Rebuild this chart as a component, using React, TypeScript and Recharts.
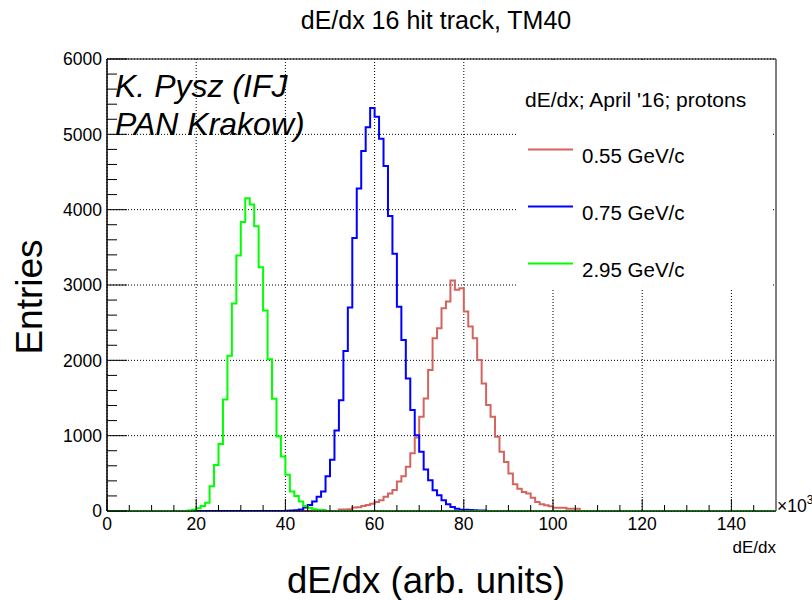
import React from 'react';
import { ComposedChart, Line, XAxis, YAxis, CartesianGrid, Legend, ReferenceArea } from 'recharts';

const FONT = '"Liberation Sans", Arial, Helvetica, sans-serif';

// ---- data (bin width = 1 unit of 10^3, bins start at integer edges) ----
const xMin = 0;
const xMax = 150;

const redStart = 52;
const redCounts = [
  20, 20, 22, 48, 50, 65, 80, 95, 120, 142, 188, 232, 278, 390, 461, 587, 765, 975, 1250, 1494,
  1871, 2293, 2426, 2692, 2780, 3060, 2936, 2958, 2647, 2448, 2293, 2004, 1694, 1406, 1250, 984,
  785, 652, 497, 355, 297, 253, 231, 177, 120, 89, 75, 62, 44, 44, 44, 31, 31, 31,
];

const blueStart = 40;
const blueCounts = [
  3, 5, 10, 20, 45, 80, 125, 190, 260, 460, 680, 1070, 1470, 2125, 2700, 3625, 4280, 4780, 5095,
  5350, 5235, 4940, 4580, 3915, 3415, 2712, 2270, 1760, 1340, 1007, 785, 550, 408, 275, 208, 142,
  89, 53, 31, 15, 15, 12, 10, 8, 5,
];

const greenStart = 18;
const greenCounts = [
  8, 18, 35, 65, 110, 330, 610, 890, 1480, 2060, 2755, 3390, 3835, 4150, 4070, 3780, 3235, 2660,
  2015, 1490, 990, 725, 480, 260, 200, 125, 67, 44, 22, 13, 13,
];

const seriesNames = ['0.55 GeV/c', '0.75 GeV/c', '2.95 GeV/c'];
const seriesColors = ['#d4645e', '#0000ff', '#00ff00'];

const xTicks = [0, 5, 10, 15, 20, 25, 30, 35, 40, 45, 50, 55, 60, 65, 70, 75, 80, 85, 90, 95, 100, 105, 110, 115, 120, 125, 130, 135, 140, 145];
const xMajor = [0, 20, 40, 60, 80, 100, 120, 140];
const yTicks = [0, 200, 400, 600, 800, 1000, 1200, 1400, 1600, 1800, 2000, 2200, 2400, 2600, 2800, 3000, 3200, 3400, 3600, 3800, 4000, 4200, 4400, 4600, 4800, 5000, 5200, 5400, 5600, 5800, 6000];
const yMajor = [0, 1000, 2000, 3000, 4000, 5000, 6000];

const titleText = 'dE/dx 16 hit track, TM40';
const legendTitle = "dE/dx; April '16; protons";
const noteLines = ['K. Pysz (IFJ', 'PAN Krakow)'];
const xTitle = 'dE/dx (arb. units)';
const yTitle = 'Entries';
const xUnitLabel = 'dE/dx';

// build table
const pick = (arr: number[], start: number, k: number) => {
  const i = k - start;
  return i >= 0 && i < arr.length ? arr[i] : 0;
};
const data: { x: number; red: number; blue: number; green: number }[] = [];
for (let k = xMin; k <= xMax; k++) {
  data.push({
    x: k,
    red: pick(redCounts, redStart, k),
    blue: pick(blueCounts, blueStart, k),
    green: pick(greenCounts, greenStart, k),
  });
}

const XTick = (props: any) => {
  const { x, y, payload } = props;
  const v = payload.value;
  const major = xMajor.includes(v);
  return (
    <g>
      <line x1={x} x2={x} y1={y} y2={y - (major ? 12 : 6)} stroke="#000" strokeWidth={1} />
      {major && (
        <text x={x} y={y + 19} textAnchor="middle" fontSize={17.5} fontFamily={FONT} fill="#000">
          {v}
        </text>
      )}
    </g>
  );
};

const YTick = (props: any) => {
  const { x, y, payload } = props;
  const v = payload.value;
  const major = yMajor.includes(v);
  return (
    <g>
      <line x1={x} x2={x + (major ? 20 : 10)} y1={y} y2={y} stroke="#000" strokeWidth={1} />
      {major && (
        <text x={x - 5} y={y} dy="0.36em" textAnchor="end" fontSize={17.5} fontFamily={FONT} fill="#000">
          {v}
        </text>
      )}
    </g>
  );
};

const renderLegend = (props: any) => {
  const payload = props.payload || [];
  return (
    <svg width={255} height={228} style={{ display: 'block' }}>
      <rect x={0} y={0} width={255} height={228} fill="#fff" />
      <text x={7} y={44.5} fontSize={21} fontFamily={FONT} fill="#000">
        {legendTitle}
      </text>
      {payload.map((p: any, i: number) => (
        <g key={i}>
          <line x1={10} x2={55} y1={87.5 + i * 57} y2={87.5 + i * 57} stroke={p.color} strokeWidth={2} />
          <text x={64} y={100.5 + i * 57} fontSize={20.5} fontFamily={FONT} fill="#000">
            {p.value}
          </text>
        </g>
      ))}
    </svg>
  );
};

export default function App() {
  return (
    <div style={{ position: 'absolute', left: 0, top: 0, width: 812, height: 600, background: '#fff' }}>
      <ComposedChart
        width={812}
        height={600}
        data={data}
        margin={{ top: 59, right: 36, bottom: 0, left: 0 }}
      >
        <CartesianGrid
          stroke="#000"
          strokeDasharray="1 2"
          verticalValues={xMajor}
          horizontalValues={yMajor}
        />
        <XAxis
          dataKey="x"
          type="number"
          domain={[xMin, xMax]}
          ticks={xTicks}
          interval={0}
          tickSize={0}
          tickMargin={0}
          tickLine={false}
          tick={<XTick />}
          height={89}
          axisLine={{ stroke: '#000' }}
          allowDataOverflow
        />
        <YAxis
          type="number"
          domain={[0, 6000]}
          ticks={yTicks}
          interval={0}
          tickSize={0}
          tickMargin={0}
          tickLine={false}
          tick={<YTick />}
          width={107}
          axisLine={{ stroke: '#000' }}
          allowDataOverflow
        />
        <ReferenceArea x1={xMin} x2={xMax} y1={0} y2={6000} fill="none" stroke="#000" strokeWidth={1} />
        <Legend
          layout="vertical"
          align="center"
          verticalAlign="middle"
          content={renderLegend}
          wrapperStyle={{ left: 518, top: 62, width: 255, height: 228 }}
        />
        <Line type="stepAfter" dataKey="red" name={seriesNames[0]} stroke={seriesColors[0]} strokeWidth={2} dot={false} activeDot={false} isAnimationActive={false} />
        <Line type="stepAfter" dataKey="blue" name={seriesNames[1]} stroke={seriesColors[1]} strokeWidth={2} dot={false} activeDot={false} isAnimationActive={false} />
        <Line type="stepAfter" dataKey="green" name={seriesNames[2]} stroke={seriesColors[2]} strokeWidth={2} dot={false} activeDot={false} isAnimationActive={false} />
      </ComposedChart>
      <svg
        width={812}
        height={600}
        style={{ position: 'absolute', left: 0, top: 0, pointerEvents: 'none' }}
      >
        <text x={436} y={29} textAnchor="middle" fontSize={25} fontFamily={FONT} fill="#000">
          {titleText}
        </text>
        {noteLines.map((t, i) => (
          <text key={i} x={115} y={97 + i * 38} fontSize={32} fontStyle="italic" fontFamily={FONT} fill="#000">
            {t}
          </text>
        ))}
        <text x={426} y={593} textAnchor="middle" fontSize={36.5} fontFamily={FONT} fill="#000">
          {xTitle}
        </text>
        <text transform="translate(42,297) rotate(-90)" textAnchor="middle" fontSize={37} fontFamily={FONT} fill="#000">
          {yTitle}
        </text>
        <text x={777} y={512} fontSize={17.5} fontFamily={FONT} fill="#000">
          {'\u00d710'}
          <tspan dy={-8} fontSize={12}>3</tspan>
        </text>
        <text x={776} y={553} textAnchor="end" fontSize={17} fontFamily={FONT} fill="#000">
          {xUnitLabel}
        </text>
      </svg>
    </div>
  );
}
